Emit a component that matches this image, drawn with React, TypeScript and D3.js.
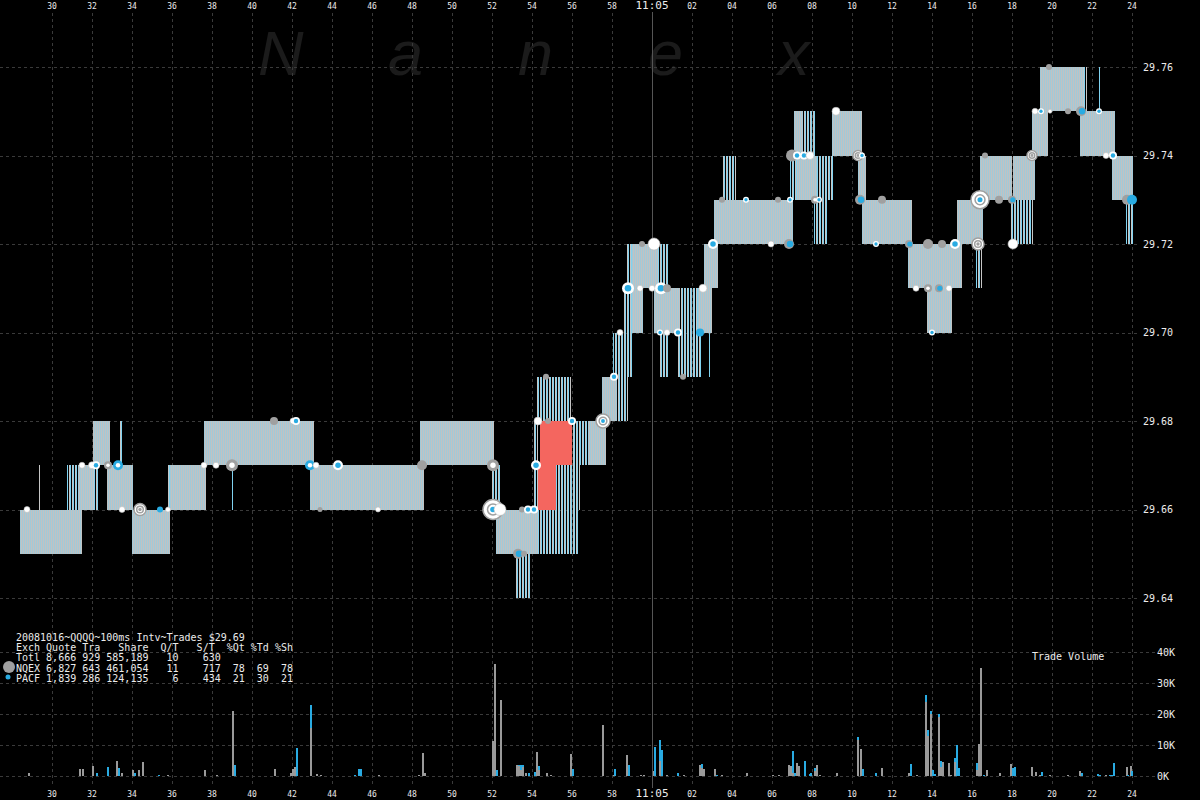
import React from 'react';
import * as d3 from 'd3';

// ---------- axis ticks ----------
const timeTicks = [30, 32, 34, 36, 38, 40, 42, 44, 46, 48, 50, 52, 54, 56, 58, 60, 62, 64, 66, 68, 70, 72, 74, 76, 78, 80, 82, 84];
const timeLabels = ['30', '32', '34', '36', '38', '40', '42', '44', '46', '48', '50', '52', '54', '56', '58', '11:05', '02', '04', '06', '08', '10', '12', '14', '16', '18', '20', '22', '24'];
const priceTicks = [29.64, 29.66, 29.68, 29.70, 29.72, 29.74, 29.76];
const volTicks = [0, 10, 20, 30, 40];
const volLabels = ['0K', '10K', '20K', '30K', '40K'];

// ---------- quote blocks: [startSec, endSec, bid, ask, style] (sec after 11:04:00) ----------
const quoteBlocks: [number, number, number, number, string][] = [
  [28.4, 31.5, 29.65, 29.66, 's'],
  [29.35, 29.42, 29.66, 29.67, 'l'],
  [30.75, 31.3, 29.66, 29.67, 'l'],
  [31.3, 32.05, 29.66, 29.67, 's'],
  [32.05, 32.9, 29.67, 29.68, 's'],
  [32.05, 32.3, 29.66, 29.67, 'l'],
  [32.75, 34.05, 29.66, 29.67, 's'],
  [33.35, 33.5, 29.67, 29.68, 'l'],
  [34.0, 35.9, 29.65, 29.66, 's'],
  [35.8, 35.9, 29.66, 29.67, 'l'],
  [35.9, 37.7, 29.66, 29.67, 's'],
  [37.6, 43.1, 29.67, 29.68, 's'],
  [39.0, 39.1, 29.66, 29.67, 'l'],
  [42.9, 48.6, 29.66, 29.67, 's'],
  [48.4, 52.1, 29.67, 29.68, 's'],
  [52.0, 52.4, 29.66, 29.67, 'l'],
  [52.2, 54.3, 29.65, 29.66, 's'],
  [53.2, 53.9, 29.64, 29.65, 'l'],
  [54.3, 56.3, 29.65, 29.66, 'l'],
  [54.2, 55.95, 29.68, 29.69, 'l'],
  [54.1, 54.3, 29.66, 29.68, 'l'],
  [55.2, 56.4, 29.66, 29.67, 'l'],
  [56.0, 56.8, 29.67, 29.68, 'l'],
  [56.8, 57.7, 29.67, 29.68, 's'],
  [57.5, 58.25, 29.68, 29.69, 's'],
  [58.25, 58.8, 29.68, 29.69, 'l'],
  [58.05, 59.05, 29.69, 29.70, 'l'],
  [58.55, 59.0, 29.70, 29.71, 'l'],
  [59.0, 59.55, 29.70, 29.71, 's'],
  [58.7, 59.0, 29.71, 29.72, 'l'],
  [59.0, 60.3, 29.71, 29.72, 's'],
  [60.3, 60.8, 29.71, 29.72, 'l'],
  [60.1, 61.4, 29.70, 29.71, 's'],
  [61.4, 62.3, 29.70, 29.71, 'l'],
  [62.3, 63.0, 29.70, 29.71, 's'],
  [60.4, 60.8, 29.69, 29.70, 'l'],
  [61.3, 62.45, 29.69, 29.70, 'l'],
  [62.85, 62.95, 29.69, 29.70, 'l'],
  [62.6, 63.3, 29.71, 29.72, 's'],
  [63.1, 67.05, 29.72, 29.73, 's'],
  [63.55, 64.2, 29.73, 29.74, 'l'],
  [66.9, 67.25, 29.73, 29.74, 'l'],
  [67.1, 67.55, 29.74, 29.75, 's'],
  [67.55, 68.2, 29.74, 29.75, 'l'],
  [67.25, 68.25, 29.73, 29.74, 's'],
  [68.25, 69.05, 29.73, 29.74, 'l'],
  [68.1, 68.75, 29.72, 29.73, 'l'],
  [69.0, 70.5, 29.74, 29.75, 's'],
  [70.3, 70.7, 29.73, 29.74, 's'],
  [70.5, 73.0, 29.72, 29.73, 's'],
  [72.8, 75.5, 29.71, 29.72, 's'],
  [73.75, 75.0, 29.70, 29.71, 's'],
  [75.25, 76.55, 29.72, 29.73, 's'],
  [76.2, 76.5, 29.71, 29.72, 'l'],
  [76.4, 78.0, 29.73, 29.74, 's'],
  [77.9, 79.05, 29.72, 29.73, 'l'],
  [78.05, 79.15, 29.73, 29.74, 's'],
  [79.0, 79.8, 29.74, 29.75, 's'],
  [79.4, 81.55, 29.75, 29.76, 's'],
  [81.55, 81.75, 29.75, 29.76, 'l'],
  [82.35, 82.45, 29.75, 29.76, 'l'],
  [81.4, 83.15, 29.74, 29.75, 's'],
  [83.0, 84.05, 29.73, 29.74, 's'],
  [83.7, 84.05, 29.72, 29.73, 'l'],
];

// crossed / locked quotes
const redBlocks: [number, number, number, number][] = [
  [54.4, 56.0, 29.67, 29.68],
  [54.3, 55.2, 29.66, 29.67],
];

// ---------- trades: [sec, price, type, radius] ----------
const trades: [number, number, string, number][] = [
  [28.75, 29.66, 'w', 3], [31.5, 29.67, 'w', 3], [32.0, 29.67, 'w', 3.5], [32.2, 29.67, 'wb', 4],
  [32.8, 29.67, 'gw', 4], [33.3, 29.67, 'bw', 5], [33.5, 29.66, 'w', 3], [34.4, 29.66, 'ring', 6],
  [35.4, 29.66, 'b', 3], [35.8, 29.66, 'w', 2.5], [37.6, 29.67, 'w', 3], [38.2, 29.67, 'w', 3],
  [39.0, 29.67, 'gw', 6], [41.1, 29.68, 'g', 4], [42.05, 29.68, 'w', 3], [42.2, 29.68, 'wb', 4],
  [42.9, 29.67, 'bw', 5], [43.2, 29.67, 'w', 3], [43.4, 29.66, 'g', 2.5], [44.3, 29.67, 'wb', 5],
  [46.3, 29.66, 'w', 2.5], [48.5, 29.67, 'g', 5], [52.05, 29.67, 'gw', 6], [52.05, 29.66, 'ring', 10],
  [52.4, 29.66, 'w', 6], [53.3, 29.65, 'gb', 5], [53.6, 29.65, 'g', 3], [53.5, 29.66, 'g', 3],
  [53.8, 29.66, 'wb', 4], [54.1, 29.66, 'wb', 4], [54.2, 29.67, 'wb', 5], [54.3, 29.68, 'w', 4],
  [54.8, 29.68, 'g', 3], [54.7, 29.69, 'g', 3], [56.0, 29.68, 'wb', 4], [57.55, 29.68, 'ring', 7],
  [58.1, 29.69, 'wb', 4], [58.4, 29.70, 'w', 3], [58.8, 29.71, 'wb', 6], [59.4, 29.71, 'w', 3],
  [59.5, 29.72, 'g', 3], [60.1, 29.72, 'w', 6], [60.0, 29.71, 'w', 3], [60.45, 29.71, 'wb', 6],
  [60.75, 29.71, 'g', 4], [60.4, 29.70, 'wb', 3], [60.75, 29.70, 'w', 3], [61.3, 29.70, 'wb', 4],
  [61.55, 29.69, 'g', 3], [62.4, 29.70, 'b', 4], [62.55, 29.71, 'w', 4], [63.05, 29.72, 'wb', 5],
  [63.5, 29.73, 'g', 3], [64.7, 29.73, 'wb', 3], [65.95, 29.72, 'w', 3], [66.3, 29.73, 'g', 3],
  [66.85, 29.72, 'gb', 5], [66.9, 29.73, 'wb', 3], [67.0, 29.74, 'g', 6], [67.25, 29.74, 'wb', 4],
  [67.6, 29.74, 'wb', 4], [67.9, 29.74, 'w', 4], [68.15, 29.73, 'gw', 4], [68.35, 29.73, 'wb', 3],
  [69.2, 29.75, 'w', 4], [70.3, 29.74, 'ring', 5], [70.5, 29.74, 'wb', 3], [70.4, 29.73, 'gb', 5],
  [71.5, 29.73, 'g', 4], [71.2, 29.72, 'wb', 3], [72.85, 29.72, 'gb', 4], [73.8, 29.72, 'g', 5],
  [74.5, 29.72, 'g', 4], [75.15, 29.72, 'wb', 5], [73.2, 29.71, 'w', 3], [73.8, 29.71, 'gw', 4],
  [74.35, 29.71, 'gb', 4], [74.85, 29.71, 'w', 3], [74.0, 29.70, 'wb', 3], [76.4, 29.73, 'ring', 9],
  [77.35, 29.73, 'g', 4], [78.0, 29.73, 'gb', 4], [76.65, 29.74, 'g', 3], [76.3, 29.72, 'ring', 6],
  [78.05, 29.72, 'w', 5], [79.0, 29.74, 'ring', 5], [79.15, 29.75, 'w', 3], [79.45, 29.75, 'wb', 3],
  [79.9, 29.75, 'w', 2], [79.85, 29.76, 'g', 3], [80.8, 29.75, 'g', 3], [81.45, 29.75, 'gb', 5],
  [82.35, 29.75, 'wb', 3], [82.7, 29.74, 'w', 3], [83.05, 29.74, 'wb', 4], [83.75, 29.73, 'g', 5],
  [84.0, 29.73, 'b', 5],
];

// ---------- volume: [sec, NQEX K shares, PACF K shares] ----------
const volumes: [number, number, number][] = [
  [28.85, 1, 0], [31.4, 2.4, 0], [31.55, 2.3, 0], [32.05, 3.3, 0], [32.25, 0, 1], [32.8, 0, 3],
  [33.25, 5, 0], [33.35, 0, 2.7], [33.5, 1, 0], [34.05, 2, 0], [34.15, 0, 1], [34.35, 2, 0],
  [34.55, 4.6, 0], [35.35, 0, 0.2], [35.8, 0.2, 0], [37.65, 2, 0], [38.25, 0.4, 0], [39.05, 21, 0],
  [39.15, 0, 3.6], [41.15, 2.4, 0], [41.95, 1, 0], [42.05, 2.4, 0], [42.15, 3, 0], [42.25, 0, 9],
  [42.95, 15.5, 7.5], [43.25, 0.5, 0], [43.45, 0.3, 0], [45.15, 0, 0.2], [45.35, 0, 2.4], [45.45, 0, 2.4],
  [46.35, 0.2, 0], [48.35, 0.2, 0], [48.55, 7.5, 0], [48.65, 1, 0], [52.05, 11.4, 0], [52.15, 36, 0],
  [52.25, 0, 2], [52.45, 24.5, 0], [53.25, 3.4, 0], [53.35, 3.3, 0.3], [53.45, 2, 1.5], [53.55, 3, 0.5],
  [53.7, 1, 0], [53.85, 0, 1], [54.15, 0, 1.3], [54.25, 7.7, 0], [54.35, 2, 1.2], [54.75, 1, 0],
  [54.95, 0.2, 0], [55.95, 7.2, 0], [56.05, 0, 2.4], [57.55, 16.3, 0], [58.1, 0.3, 0], [58.15, 0, 2.1],
  [58.75, 6.7, 0], [58.85, 0, 3.4], [59.45, 0.4, 0], [59.6, 0.4, 0], [60.1, 1.5, 0], [60.15, 0, 9.2],
  [60.4, 5, 6.7], [60.5, 0, 8.3], [60.75, 0.3, 0], [61.3, 0, 1], [61.6, 0.2, 0], [62.4, 3.4, 0],
  [62.5, 2.5, 1.5], [62.6, 2.4, 0], [63.15, 2.4, 0], [63.25, 0, 0.4], [63.5, 0.2, 0], [64.75, 1, 0],
  [66.05, 0.3, 0], [66.35, 0.2, 0], [66.85, 3.6, 0], [66.95, 3.2, 0], [67.05, 1, 7.2], [67.15, 0, 1],
  [67.25, 4.3, 0], [67.35, 3.1, 0], [67.65, 0, 4.7], [67.9, 0, 0.5], [67.95, 0, 1], [68.15, 1.5, 1],
  [68.25, 3.6, 0], [68.4, 0.3, 0], [69.25, 1, 0], [70.3, 11.5, 1], [70.45, 8.8, 0], [70.55, 0, 2.4],
  [71.2, 0, 1], [71.5, 2.7, 0], [72.85, 1, 0], [72.95, 0, 4], [73.25, 0.2, 0], [73.7, 24, 2],
  [73.8, 13, 2], [73.95, 20, 1], [74.05, 0, 1.8], [74.15, 0, 0.7], [74.35, 19, 1], [74.45, 3, 2],
  [74.55, 4.5, 0], [74.85, 4.3, 0], [74.95, 0.2, 0], [75.15, 4.5, 1.3], [75.25, 0, 10], [75.35, 0, 2.6],
  [76.25, 2, 2.3], [76.35, 10.4, 0], [76.45, 35, 0], [76.6, 0, 0.2], [76.75, 2, 0], [77.4, 1, 0],
  [77.95, 3.9, 0], [78.05, 0, 2.5], [78.15, 0, 2.8], [79.0, 2.8, 0], [79.2, 1.3, 0], [79.4, 0.4, 0],
  [79.5, 0, 1.3], [79.9, 0.2, 0], [80.8, 0.2, 0], [81.4, 1.6, 0], [81.5, 0, 1], [82.3, 0, 0.7],
  [82.4, 0, 0.2], [82.7, 0.3, 0], [82.9, 0, 0.4], [83.0, 0, 0.3], [83.1, 0, 4.2], [83.75, 3, 0],
  [83.8, 0, 0.3], [83.95, 3.2, 0], [84.0, 0, 1.5],
];

// ---------- legend text ----------
const legendLines = [
  '20081016~QQQQ~100ms Intv~Trades $29.69',
  'Exch Quote Tra   Share  Q/T   S/T  %Qt %Td %Sh',
  'Totl 8,666 929 585,189   10    630',
  'NQEX 6,827 643 461,054   11    717  78  69  78',
  'PACF 1,839 286 124,135    6    434  21  30  21',
];
const watermark = ['N', 'a', 'n', 'e', 'x'];

const BLUE = '#29abe2';
const GRAY = '#a0a0a0';
const GRID = '#3a3a3a';
const TXT = '#ececec';
const MONO = '"DejaVu Sans Mono", "Liberation Mono", monospace';

function Marker({ cx, cy, type, r }: { cx: number; cy: number; type: string; r: number }) {
  switch (type) {
    case 'w':
      return <circle cx={cx} cy={cy} r={r} fill="#fff" stroke="#bbb" strokeWidth={0.6} />;
    case 'g':
      return <circle cx={cx} cy={cy} r={r} fill={GRAY} />;
    case 'b':
      return <circle cx={cx} cy={cy} r={r} fill={BLUE} />;
    case 'wb':
      return (
        <g>
          <circle cx={cx} cy={cy} r={r} fill="#fff" />
          <circle cx={cx} cy={cy} r={r * 0.55} fill={BLUE} />
        </g>
      );
    case 'bw':
      return (
        <g>
          <circle cx={cx} cy={cy} r={r} fill={BLUE} />
          <circle cx={cx} cy={cy} r={r * 0.45} fill="#fff" />
        </g>
      );
    case 'gw':
      return (
        <g>
          <circle cx={cx} cy={cy} r={r} fill={GRAY} />
          <circle cx={cx} cy={cy} r={r * 0.45} fill="#fff" />
        </g>
      );
    case 'gb':
      return (
        <g>
          <circle cx={cx} cy={cy} r={r} fill={GRAY} />
          <circle cx={cx + r * 0.2} cy={cy} r={r * 0.65} fill={BLUE} />
        </g>
      );
    default:
      return (
        <g>
          <circle cx={cx} cy={cy} r={r} fill="#fff" stroke={GRAY} strokeWidth={1.5} />
          <circle cx={cx} cy={cy} r={r * 0.55} fill="#fff" stroke={GRAY} strokeWidth={1.5} />
          <circle cx={cx} cy={cy} r={r * 0.28} fill={r > 6 ? BLUE : GRAY} />
        </g>
      );
  }
}

export default function App() {
  const x = d3.scaleLinear().domain([30, 84]).range([52, 1132]);
  const y = d3.scaleLinear().domain([29.64, 29.76]).range([598, 67]);
  const vy = d3.scaleLinear().domain([0, 40]).range([776, 652]);

  const ordered = [...quoteBlocks].sort((a, b) => (a[4] === b[4] ? 0 : a[4] === 'l' ? -1 : 1));

  // expand each quote block into its 1px interval lines
  const quoteLines: { px: number; y0: number; y1: number; c: string }[] = [];
  ordered.forEach((b) => {
    const x0 = Math.round(x(b[0]));
    const x1 = Math.max(Math.round(x(b[1])), x0 + 1);
    const y0 = Math.round(y(b[3]));
    const y1 = Math.round(y(b[2]));
    for (let px = x0; px < x1; px++) {
      if (b[4] === 's') {
        quoteLines.push({ px, y0, y1, c: px % 2 === 0 ? '#a2c9d8' : '#c2c2c2' });
      } else {
        const m = px % 3;
        if (m === 0) quoteLines.push({ px, y0, y1, c: '#c6c6c6' });
        else if (m === 1) quoteLines.push({ px, y0, y1, c: '#80d2f0' });
      }
    }
  });

  return (
    <div style={{ position: 'absolute', left: 0, top: 0, width: 1200, height: 800, background: '#000' }}>
      <style>{`html,body{margin:0;padding:0;background:#000;}`}</style>
      <svg width={1200} height={800} style={{ display: 'block' }}>
        <rect x={0} y={0} width={1200} height={800} fill="#000" />

        {/* watermark */}
        {watermark.map((ch, i) => (
          <text key={ch + i} x={258 + i * 130} y={75} fontFamily='"Liberation Sans", Arial, sans-serif'
            fontStyle="italic" fontSize={63} fill="#1b1b1b">{ch}</text>
        ))}

        {/* grid */}
        <g shapeRendering="crispEdges">
          {timeTicks.map((t) => t === 60 ? null : (
            <line key={'vg' + t} x1={Math.round(x(t)) + 0.5} x2={Math.round(x(t)) + 0.5} y1={13} y2={786}
              stroke={GRID} strokeDasharray="3,3" />
          ))}
          {priceTicks.map((p) => (
            <line key={'hg' + p} x1={0} x2={1140} y1={Math.round(y(p)) + 0.5} y2={Math.round(y(p)) + 0.5}
              stroke={GRID} strokeDasharray="3,3" />
          ))}
          {volTicks.map((v) => (
            <line key={'vvg' + v} x1={0} x2={1155} y1={Math.round(vy(v)) + 0.5} y2={Math.round(vy(v)) + 0.5}
              stroke={GRID} strokeDasharray="3,3" />
          ))}
          <line x1={Math.round(x(60)) + 0.5} x2={Math.round(x(60)) + 0.5} y1={12} y2={788} stroke="#555" />
        </g>

        {/* quotes */}
        <g shapeRendering="crispEdges">
          {quoteLines.map((l, i) => (
            <rect key={'ql' + i} x={l.px} y={l.y0} width={1} height={l.y1 - l.y0} fill={l.c} />
          ))}
          {redBlocks.map((b, i) => {
            const x0 = Math.round(x(b[0]));
            const x1 = Math.round(x(b[1]));
            const y0 = Math.round(y(b[3]));
            const y1 = Math.round(y(b[2]));
            return <rect key={'r' + i} x={x0} y={y0} width={x1 - x0} height={y1 - y0} fill="#f4665f" />;
          })}
        </g>

        {/* trades */}
        <g>
          {trades.map((t, i) => (
            <Marker key={'t' + i} cx={x(t[0])} cy={y(t[1])} type={t[2]} r={t[3]} />
          ))}
        </g>

        {/* volume */}
        <g shapeRendering="crispEdges">
          {volumes.map((v, i) => {
            const bx = Math.round(x(v[0])) - 1;
            const g0 = vy(0);
            const gTop = vy(v[1]);
            const bTop = vy(v[1] + v[2]);
            return (
              <g key={'v' + i}>
                {v[1] > 0 && <rect x={bx} y={gTop} width={2} height={g0 - gTop} fill="#9a9a9a" />}
                {v[2] > 0 && <rect x={bx} y={bTop} width={2} height={gTop - bTop} fill={BLUE} />}
              </g>
            );
          })}
        </g>

        {/* time labels */}
        {timeTicks.map((t, i) => {
          const big = timeLabels[i] === '11:05';
          return (
            <g key={'tl' + t}>
              <text x={x(t)} y={9} textAnchor="middle" fontFamily={MONO} fontSize={big ? 11 : 8} fill={TXT}>{timeLabels[i]}</text>
              <text x={x(t)} y={797} textAnchor="middle" fontFamily={MONO} fontSize={big ? 11 : 8} fill={TXT}>{timeLabels[i]}</text>
            </g>
          );
        })}

        {/* price labels */}
        {priceTicks.map((p) => (
          <text key={'pl' + p} x={1143} y={y(p) + 3.5} fontFamily={MONO} fontSize={10} fill={TXT}>{p.toFixed(2)}</text>
        ))}
        {volTicks.map((v, i) => (
          <text key={'vl' + v} x={1157} y={vy(v) + 3.5} fontFamily={MONO} fontSize={10} fill={TXT}>{volLabels[i]}</text>
        ))}
        <text x={1032} y={660} fontFamily={MONO} fontSize={10} fill={TXT}>Trade Volume</text>

        {/* legend */}
        {legendLines.map((s, i) => (
          <text key={'lg' + i} x={16} y={641 + i * 10.2} fontFamily={MONO} fontSize={10} fill={TXT}
            style={{ whiteSpace: 'pre' }}>{s}</text>
        ))}
        <circle cx={9} cy={667} r={6} fill={GRAY} />
        <circle cx={8} cy={677} r={2.5} fill={BLUE} />
      </svg>
    </div>
  );
}
